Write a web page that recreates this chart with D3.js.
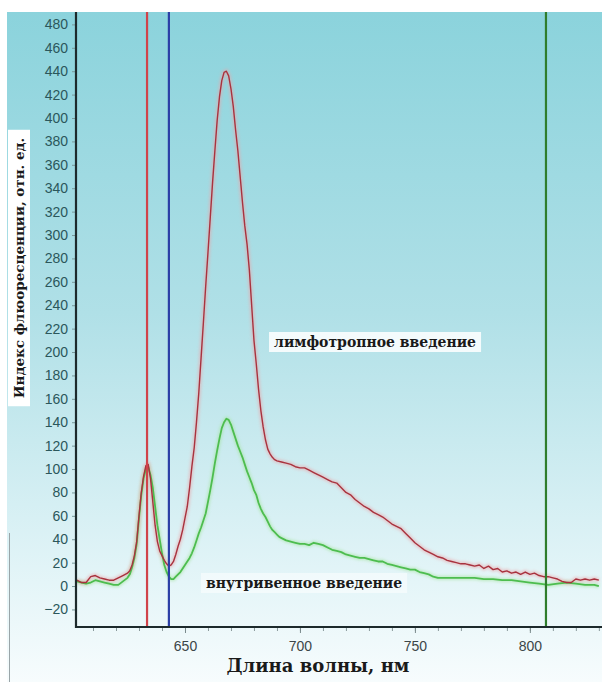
<!DOCTYPE html>
<html>
<head>
<meta charset="utf-8">
<script src="https://cdn.jsdelivr.net/npm/d3@7"></script>
<style>
  body { margin: 0; background: #fff; }
  svg { display: block; }
</style>
</head>
<body>
<div id="chart"></div>
<script>
// wavelength (nm) and fluorescence values
const lymphNm = [603, 605, 607, 609, 611, 613, 615, 617, 619, 621, 623, 625, 626, 627, 628, 629, 630, 631, 632, 633,
  634, 635, 636, 637, 638, 639, 640, 641, 642, 643, 644, 645, 646, 647, 648, 649, 650, 651, 652, 653,
  654, 655, 656, 657, 658, 659, 660, 661, 662, 663, 664, 665, 666, 667, 668, 669, 670, 671, 672, 673,
  674, 675, 676, 677, 678, 679, 680, 681, 682, 683, 684, 685, 686, 687, 688, 689, 690, 692, 694, 696,
  698, 700, 702, 704, 706, 708, 710, 712, 714, 716, 718, 720, 722, 724, 726, 728, 730, 732, 734, 736,
  738, 740, 742, 744, 746, 748, 750, 752, 754, 756, 758, 760, 762, 764, 766, 768, 770, 772, 774, 776,
  778, 780, 782, 784, 786, 788, 790, 792, 794, 796, 798, 800, 802, 804, 806, 808, 810, 812, 814, 816,
  818, 820, 822, 824, 826, 828, 830];
const lymphVal = [5, 3, 3, 8, 9, 7, 6, 5, 5, 7, 9, 11, 13, 18, 26, 38, 60, 80, 94, 103,
  104, 92, 72, 52, 38, 30, 26, 22, 19, 17, 18, 21, 27, 34, 40, 48, 58, 68, 84, 102,
  118, 140, 165, 195, 225, 256, 285, 315, 345, 372, 398, 418, 432, 439, 440, 436, 425, 410, 390, 372,
  350, 328, 308, 292, 270, 240, 210, 190, 168, 150, 136, 125, 117, 113, 110, 108, 107, 106, 105, 104,
  102, 101, 101, 99, 97, 95, 93, 91, 89, 88, 84, 80, 78, 74, 71, 68, 66, 63, 61, 59,
  56, 53, 51, 49, 45, 41, 37, 34, 31, 29, 27, 25, 24, 22, 21, 20, 19, 19, 18, 17,
  18, 15, 17, 14, 15, 12, 13, 11, 12, 10, 12, 10, 11, 9, 8, 8, 7, 6, 4, 3,
  3, 6, 5, 6, 5, 6, 5];

const venNm = [603, 605, 607, 609, 611, 613, 615, 617, 619, 621, 623, 625, 626, 627, 628, 629, 630, 631, 632, 633,
  634, 635, 636, 637, 638, 639, 640, 641, 642, 643, 644, 645, 646, 647, 648, 649, 650, 651, 652, 653,
  654, 655, 656, 657, 658, 659, 660, 661, 662, 663, 664, 665, 666, 667, 668, 669, 670, 671, 672, 673,
  674, 675, 676, 677, 678, 679, 680, 681, 682, 683, 684, 685, 686, 687, 688, 689, 690, 691, 692, 694,
  696, 698, 700, 702, 704, 706, 708, 710, 712, 714, 716, 718, 720, 722, 724, 726, 728, 730, 732, 734,
  736, 738, 740, 742, 744, 746, 748, 750, 752, 754, 756, 758, 760, 764, 768, 772, 776, 780, 784, 788,
  792, 796, 800, 804, 808, 812, 816, 820, 824, 828, 830];
const venVal = [4, 3, 2, 3, 5, 4, 3, 2, 1, 1, 4, 7, 10, 16, 24, 36, 58, 78, 92, 100,
  102, 95, 84, 68, 52, 40, 28, 18, 12, 8, 6, 6, 8, 10, 12, 15, 18, 21, 24, 28,
  33, 39, 45, 50, 56, 62, 72, 82, 93, 105, 116, 126, 135, 140, 143, 142, 138, 132, 126, 120,
  115, 110, 104, 98, 93, 88, 82, 78, 71, 66, 62, 59, 55, 51, 48, 46, 44, 42, 41, 39,
  38, 37, 36, 36, 35, 37, 36, 35, 33, 31, 30, 29, 27, 26, 25, 24, 24, 23, 22, 21,
  21, 19, 18, 17, 16, 15, 14, 14, 12, 11, 10, 8, 7, 7, 7, 7, 7, 6, 6, 5,
  5, 4, 3, 2, 1, 2, 3, 2, 1, 1, 0];

// marker lines (nm)
const markerNm = [633.5, 643, 807];
const markerColors = ['#d0434a', '#2b3fa6', '#2f7d2c'];

const yTicks = d3.range(-20, 481, 20);
const xTicks = [650, 700, 750, 800];
const xMinorTicks = d3.range(610, 831, 10);

const yTitle = 'Индекс флюоресценции, отн. ед.';
const xTitle = 'Длина волны, нм';
const lymphLabel = 'лимфотропное введение';
const venLabel = 'внутривенное введение';

const width = 602;
const height = 682;
const plot = { left: 76, right: 600, top: 12, bottom: 627 };

const svg = d3.select('#chart').append('svg')
  .attr('width', width)
  .attr('height', height);

const defs = svg.append('defs');
const grad = defs.append('linearGradient')
  .attr('id', 'bg')
  .attr('x1', 0).attr('y1', 0).attr('x2', 0).attr('y2', 1);
grad.append('stop').attr('offset', '0%').attr('stop-color', '#8bd3dc');
grad.append('stop').attr('offset', '45%').attr('stop-color', '#b0e0e7');
grad.append('stop').attr('offset', '85%').attr('stop-color', '#e4f5f8');
grad.append('stop').attr('offset', '100%').attr('stop-color', '#f7fcfd');

defs.append('filter').attr('id', 'glow')
  .append('feGaussianBlur').attr('stdDeviation', 1.6);

svg.append('rect')
  .attr('x', 7).attr('y', plot.top)
  .attr('width', width - 7).attr('height', height - plot.top)
  .attr('fill', 'url(#bg)');

// thin stray line at the left edge
svg.append('line')
  .attr('x1', 9.5).attr('x2', 9.5)
  .attr('y1', 533).attr('y2', height)
  .attr('stroke', '#9aa5a8').attr('stroke-width', 1);

const xScale = d3.scaleLinear()
  .domain([602.6, 830.5])
  .range([plot.left, plot.right]);

const yScale = d3.scaleLinear()
  .domain([-35, 490.6])
  .range([plot.bottom, plot.top]);

const chart = svg.append('g');

// y axis
const yAxisG = chart.append('g')
  .attr('transform', `translate(${plot.left},0)`)
  .call(d3.axisLeft(yScale).tickValues(yTicks).tickSize(4).tickPadding(4));
yAxisG.select('.domain').remove();
yAxisG.selectAll('.tick line').attr('stroke', '#7a9a9c');
yAxisG.selectAll('.tick text')
  .attr('fill', '#2b575b')
  .style('font-family', 'Arial, "Liberation Sans", sans-serif')
  .style('font-size', '14px');

// x axis
const xMinorG = chart.append('g')
  .attr('transform', `translate(0,${plot.bottom})`)
  .call(d3.axisBottom(xScale).tickValues(xMinorTicks).tickSize(4).tickFormat(''));
xMinorG.select('.domain').remove();
xMinorG.selectAll('.tick line').attr('stroke', '#8a9a9c');

const xAxisG = chart.append('g')
  .attr('transform', `translate(0,${plot.bottom})`)
  .call(d3.axisBottom(xScale).tickValues(xTicks).tickSize(6).tickPadding(8));
xAxisG.select('.domain').remove();
xAxisG.selectAll('.tick line').attr('stroke', '#7a8a8c');
xAxisG.selectAll('.tick text')
  .attr('fill', '#3c4648')
  .style('font-family', 'Arial, "Liberation Sans", sans-serif')
  .style('font-size', '14px');

// series
const line = d3.line()
  .x((d) => xScale(d[0]))
  .y((d) => yScale(d[1]));

const venData = venNm.map((n, i) => [n, venVal[i]]);
const lymphData = lymphNm.map((n, i) => [n, lymphVal[i]]);

const series = [
  { data: venData, color: '#4dbd4f', halo: '#a3e39c', w: 1.8 },
  { data: lymphData, color: '#a8323e', halo: '#eaa5a8', w: 1.4 },
];

series.forEach((s) => {
  chart.append('path')
    .datum(s.data)
    .attr('d', line)
    .attr('fill', 'none')
    .attr('stroke', s.halo)
    .attr('stroke-width', 4)
    .attr('opacity', 0.6)
    .attr('filter', 'url(#glow)');
});
series.forEach((s) => {
  chart.append('path')
    .datum(s.data)
    .attr('d', line)
    .attr('fill', 'none')
    .attr('stroke', s.color)
    .attr('stroke-width', s.w)
    .attr('stroke-linejoin', 'round');
});

// vertical marker lines
chart.selectAll('.marker')
  .data(markerNm)
  .join('line')
  .attr('class', 'marker')
  .attr('x1', (d) => xScale(d))
  .attr('x2', (d) => xScale(d))
  .attr('y1', plot.top)
  .attr('y2', plot.bottom)
  .attr('stroke', (d, i) => markerColors[i])
  .attr('stroke-width', 2.2);

// axis lines
chart.append('line')
  .attr('x1', plot.left).attr('x2', plot.left)
  .attr('y1', plot.top).attr('y2', plot.bottom + 1)
  .attr('stroke', '#1d2a2c').attr('stroke-width', 2.2);
chart.append('line')
  .attr('x1', plot.left - 1).attr('x2', plot.right + 2)
  .attr('y1', plot.bottom).attr('y2', plot.bottom)
  .attr('stroke', '#1d2a2c').attr('stroke-width', 2.2);

// labels
const serif = '"DejaVu Serif", "Liberation Serif", serif';

function boxedLabel(text, cx, cy, size, boxOpacity) {
  const g = chart.append('g');
  const t = g.append('text')
    .attr('x', cx).attr('y', cy)
    .attr('text-anchor', 'middle')
    .attr('dominant-baseline', 'central')
    .attr('fill', '#1a1a1a')
    .style('font-family', serif)
    .style('font-weight', 'bold')
    .style('font-size', `${size}px`)
    .text(text);
  const b = t.node().getBBox();
  g.insert('rect', 'text')
    .attr('x', b.x - 5).attr('y', b.y - 2)
    .attr('width', b.width + 10).attr('height', b.height + 4)
    .attr('fill', '#ffffff')
    .attr('opacity', boxOpacity);
}

boxedLabel(lymphLabel, 375, 342, 14, 0.85);
boxedLabel(venLabel, 304, 583, 14, 0.5);

// y title with white box
const yTitleG = svg.append('g')
  .attr('transform', 'translate(19,268) rotate(-90)');
const yt = yTitleG.append('text')
  .attr('text-anchor', 'middle')
  .attr('dominant-baseline', 'central')
  .attr('fill', '#1a1a1a')
  .style('font-family', serif)
  .style('font-weight', 'bold')
  .style('font-size', '13.5px')
  .text(yTitle);
const yb = yt.node().getBBox();
yTitleG.insert('rect', 'text')
  .attr('x', yb.x - 8).attr('y', -11)
  .attr('width', yb.width + 16).attr('height', 22)
  .attr('fill', '#ffffff');

svg.append('text')
  .attr('x', 318).attr('y', 665)
  .attr('text-anchor', 'middle')
  .attr('dominant-baseline', 'central')
  .attr('fill', '#1a1a1a')
  .style('font-family', serif)
  .style('font-weight', 'bold')
  .style('font-size', '18px')
  .text(xTitle);
</script>
</body>
</html>
